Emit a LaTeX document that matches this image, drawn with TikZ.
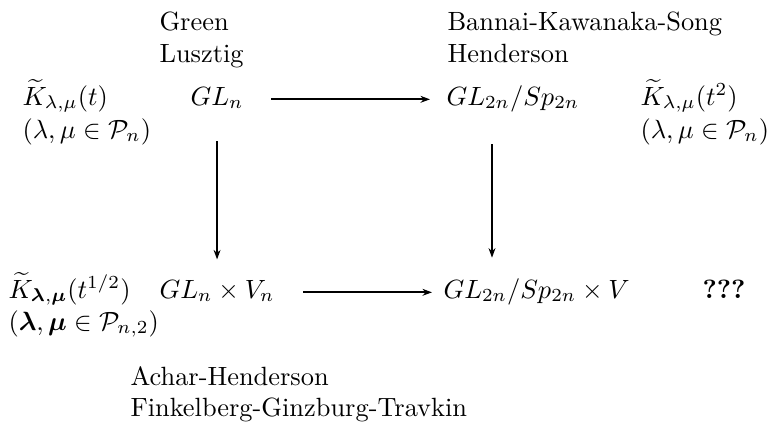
\documentclass[tikz,border=0pt]{standalone}
\usepackage{amsmath,amssymb}
\usepackage{tikz}
\usetikzlibrary{calc,arrows.meta}

\newcommand{\pxu}{0.379pt}

\begin{document}
\begin{tikzpicture}[x=\pxu,y=-\pxu,>={Stealth[length=3.6pt,width=2.6pt]},
  txt/.style={anchor=base west,inner sep=0pt}]
  \useasboundingbox (0,0) rectangle (770,427);
  % names
  \node[txt] (green) at (159,30) {Green};
  \node[txt] (lusz) at (159,62) {Lusztig};
  \node[txt] (bks) at (447,30) {Bannai-Kawanaka-Song};
  \node[txt] (hend) at (447,62) {Henderson};
  \node[txt] (ah) at (130,385) {Achar-Henderson};
  \node[txt] (fgt) at (130,416) {Finkelberg-Ginzburg-Travkin};
  % top row
  \node[txt] (kt) at (22,105) {$\widetilde{K}_{\lambda,\mu}(t)$};
  \node[txt] (pn) at (22,138) {$(\lambda,\mu\in\mathcal{P}_n)$};
  \node[txt] (gln) at (190,105) {$GL_n$};
  \node[txt] (gltwo) at (446,105) {$GL_{2n}/Sp_{2n}$};
  \node[txt] (ktt) at (640,105) {$\widetilde{K}_{\lambda,\mu}(t^2)$};
  \node[txt] (pnr) at (640,138) {$(\lambda,\mu\in\mathcal{P}_n)$};
  % bottom row
  \node[txt] (kh) at (8,298) {$\widetilde{K}_{\boldsymbol{\lambda},\boldsymbol{\mu}}(t^{1/2})$};
  \node[txt] (pnt) at (8,330) {$(\boldsymbol{\lambda},\boldsymbol{\mu}\in\mathcal{P}_{n,2})$};
  \node[txt] (glnv) at (159,298) {$GL_n\times V_n$};
  \node[txt] (gltwov) at (443,298) {$GL_{2n}/Sp_{2n}\times V$};
  \node[txt] (qqq) at (702,298) {\textbf{???}};
  % arrows
  \draw[->,thick,shorten <=27*\pxu,shorten >=16*\pxu] (gln.mid east) -- (gltwo.mid west);
  \draw[->,thick,shorten <=28*\pxu,shorten >=11*\pxu] (glnv.mid east) -- (gltwov.mid west);
  \draw[->,thick] ($(gln.south)+(0,32)$) -- ($(gln.south |- glnv.north)+(0,-20)$);
  \draw[->,thick] ($(gltwo.south west)+(46,32)$) -- ($(gltwo.south west |- gltwov.north)+(46,-20)$);
\end{tikzpicture}
\end{document}
